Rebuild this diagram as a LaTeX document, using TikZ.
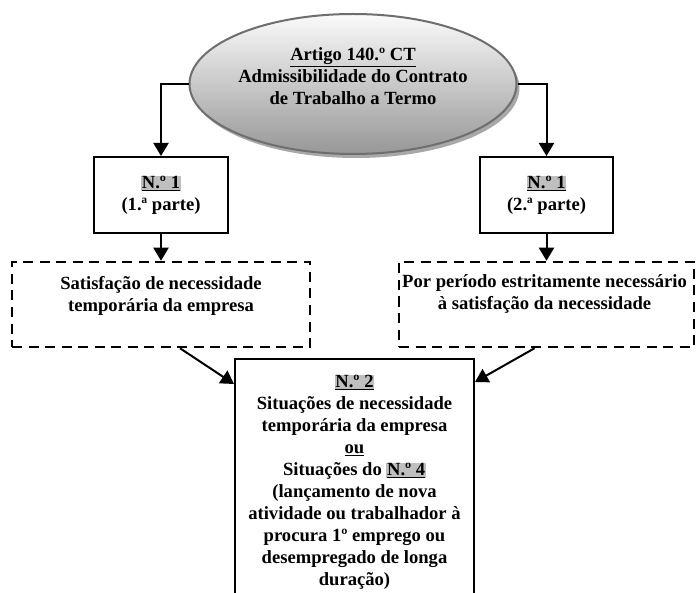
\documentclass[tikz,border=0pt]{standalone}
\usepackage{fontspec}
\setmainfont{Liberation Serif}
\usetikzlibrary{arrows.meta,shapes.geometric}
\definecolor{hlgray}{HTML}{BFBFBF}
\definecolor{ellline}{HTML}{6E6E6E}
\definecolor{elltop}{HTML}{FAFAFA}
\definecolor{ellmid}{HTML}{DCDCDC}
\definecolor{ellbot}{HTML}{979797}
\definecolor{shadowgray}{HTML}{A8A8A8}
\newcommand{\hlnum}[1]{{\setlength{\fboxsep}{0.6pt}\colorbox{hlgray}{\underline{#1}}}}
\begin{document}
\begin{tikzpicture}[x=1pt,y=-1pt,
  every node/.style={font=\fontsize{18.6}{22}\selectfont\bfseries, align=center, inner sep=0pt},
  sbox/.style={draw, line width=2pt},
  dbox/.style={draw, line width=2.5pt, dash pattern=on 10pt off 6.5pt},
  conn/.style={line width=2pt, -{Triangle[length=13pt,width=15pt]}}]
\useasboundingbox (0,0) rectangle (698,593);
\clip (0,0) rectangle (698,593);
% ellipse with shadow
\node[ellipse, minimum width=327pt, minimum height=140pt, fill=shadowgray] (es) at (356,88) {};
\node[ellipse, minimum width=327pt, minimum height=140pt, draw=ellline, line width=2pt,
      top color=elltop, middle color=ellmid, bottom color=ellbot] (e) at (353,84) {};
\node (et) at (353,76) {\underline{Artigo 140.º CT}\\Admissibilidade do Contrato\\de Trabalho a Termo};
% boxes
\node[sbox, minimum width=134pt, minimum height=76pt] (b1) at (161,195) {\hlnum{N.º 1}\\(1.ª parte)};
\node[sbox, minimum width=133pt, minimum height=76pt] (b2) at (546.5,195) {\hlnum{N.º 1}\\(2.ª parte)};
\node[dbox, minimum width=298pt, minimum height=85pt] (d1) at (161,304.5) {};
\node (d1t) at (161,296) {Satisfação de necessidade\\temporária da empresa};
\node[dbox, minimum width=295pt, minimum height=85pt] (d2) at (546.5,304.5) {};
\node (d2t) at (544.5,294) {Por período estritamente necessário\\à satisfação da necessidade};
\node[sbox, minimum width=239pt, minimum height=246pt] (b3) at (354.5,482)
  {\hlnum{N.º 2}\\Situações de necessidade\\temporária da empresa\\\underline{ou}\\Situações do \hlnum{N.º 4}\\(lançamento de nova\\atividade ou trabalhador à\\procura 1º emprego ou\\desempregado de longa\\duração)};
% connectors
\draw[conn] (e.west) -| (b1.north);
\draw[conn] (e.east) -| (b2.north);
\draw[conn] (b1.south) -- (d1.north);
\draw[conn] (b2.south) -- (d2.north);
\draw[conn] ([xshift=19pt]d1.south) -- ([yshift=-26pt]b3.north west);
\draw[conn] ([xshift=-12pt]d2.south) -- ([yshift=-24pt]b3.north east);
\end{tikzpicture}
\end{document}
